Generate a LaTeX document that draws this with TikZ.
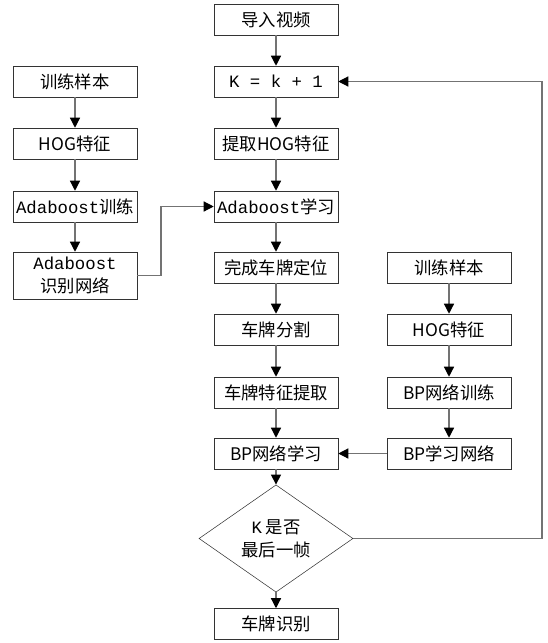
\documentclass[tikz,border=0pt]{standalone}
\usepackage{fontspec}
\setmainfont{Noto Sans CJK SC}
\newfontfamily\latmono{Liberation Mono}
\usetikzlibrary{arrows.meta,shapes.geometric}

\begin{document}
\begin{tikzpicture}
            [x=0.75pt,y=-0.75pt,thin,
             every node/.style={font=\fontsize{13}{17}\selectfont,align=center},
             box/.style={draw=black!80,rectangle,minimum width=93pt,minimum height=23.25pt,inner sep=0pt},
             dia/.style={draw=black!80,diamond,minimum width=115.5pt,minimum height=57.75pt,inner sep=0pt},
             arr/.style={draw=black!55,line width=0.9pt,-{Triangle[length=7.5pt,width=7.5pt,fill=black,color=black]}}]
            \useasboundingbox (0,0) rectangle (547,643);
            % middle column
            \node[box] (video) at (276,19.5) {导入视频};
            \node[box] (k) at (276,81.5) {{\latmono K = k + 1}};
            \node[box] (hog) at (276,143.5) {提取HOG特征};
            \node[box] (ada) at (276,206.5) {{\latmono Adaboost}学习};
            \node[box] (loc) at (276,267.5) {完成车牌定位};
            \node[box] (seg) at (276,329.5) {车牌分割};
            \node[box] (feat) at (276,392.5) {车牌特征提取};
            \node[box] (bpl) at (276,453.5) {BP网络学习};
            \node[dia] (last) at (276,538.5) {{\latmono K} 是否\\最后一帧};
            \node[box] (rec) at (276,624) {车牌识别};
            % left column
            \node[box] (sl) at (75,81.5) {训练样本};
            \node[box] (hl) at (75,143.5) {HOG特征};
            \node[box] (tl) at (75,206.5) {{\latmono Adaboost}训练};
            \node[box,minimum height=35.25pt] (net) at (75,275.5) {{\latmono Adaboost}\\识别网络};
            % right column
            \node[box] (sr) at (449,267.5) {训练样本};
            \node[box] (hr) at (449,329.5) {HOG特征};
            \node[box] (tr) at (449,392.5) {BP网络训练};
            \node[box] (bpn) at (449,453.5) {BP学习网络};
            \coordinate (fb) at (542,538.5);
            \coordinate (bend) at (161,275.5);
            \draw[arr] (video) -- (k);
            \draw[arr] (k) -- (hog);
            \draw[arr] (hog) -- (ada);
            \draw[arr] (ada) -- (loc);
            \draw[arr] (loc) -- (seg);
            \draw[arr] (seg) -- (feat);
            \draw[arr] (feat) -- (bpl);
            \draw[arr] (bpl) -- (last);
            \draw[arr] (last) -- (rec);
            \draw[arr] (sl) -- (hl);
            \draw[arr] (hl) -- (tl);
            \draw[arr] (tl) -- (net);
            \draw[arr] (net.east) -- (bend) |- (ada.west);
            \draw[arr] (sr) -- (hr);
            \draw[arr] (hr) -- (tr);
            \draw[arr] (tr) -- (bpn);
            \draw[arr] (bpn) -- (bpl);
            \draw[arr] (last.east) -- (fb) |- (k.east);
        \end{tikzpicture}
\end{document}
